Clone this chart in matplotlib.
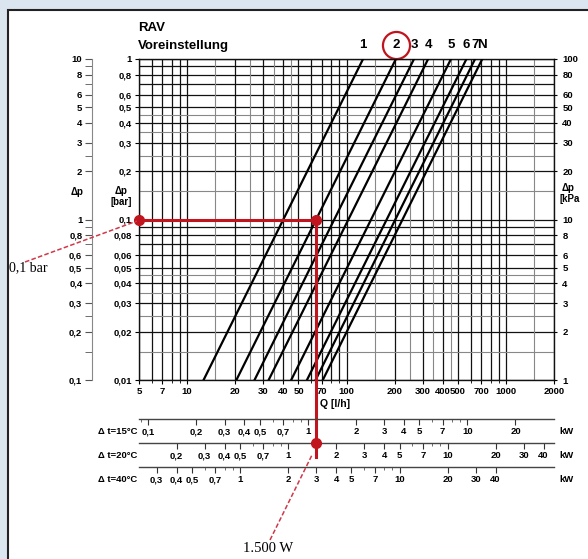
import matplotlib.pyplot as plt
import matplotlib.transforms as mtransforms
from matplotlib.patches import Rectangle
from matplotlib.ticker import FixedLocator, FixedFormatter, NullFormatter

plt.rcParams['font.family'] = ['Liberation Sans', 'DejaVu Sans']
plt.rcParams['font.weight'] = 'bold'

# Daten
settings = ['1', '2', '3', '4', '5', '6', '7', 'N']
q_at_001bar = [12.7, 20.4, 26.5, 32.5, 45, 56.5, 64, 71]      # l/h bei 0,01 bar
q_at_1bar = [127, 204, 265, 325, 452, 565, 640, 710]          # l/h bei 1 bar

q_ticks = [5, 7, 10, 20, 30, 40, 50, 70, 100, 200, 300, 400, 500, 700, 1000, 2000]
bar_ticks = [1, 0.8, 0.6, 0.5, 0.4, 0.3, 0.2, 0.1, 0.08, 0.06, 0.05, 0.04, 0.03, 0.02, 0.01]
mws_ticks = [10, 8, 6, 5, 4, 3, 2, 1, 0.8, 0.6, 0.5, 0.4, 0.3, 0.2, 0.1]
mws_minor = [9, 7, 2.5, 0.9, 0.7, 0.25, 0.15]
kpa_ticks = [100, 80, 60, 50, 40, 30, 20, 10, 8, 6, 5, 4, 3, 2, 1]

dt_rows = [15, 20, 40]
kw_ticks = [
    [0.1, 0.2, 0.3, 0.4, 0.5, 0.7, 1, 2, 3, 4, 5, 7, 10, 20],
    [0.2, 0.3, 0.4, 0.5, 0.7, 1, 2, 3, 4, 5, 7, 10, 20, 30, 40],
    [0.3, 0.4, 0.5, 0.7, 1, 2, 3, 4, 5, 7, 10, 20, 30, 40],
]

grid_major = [m * d for d in (1, 10, 100, 1000) for m in range(1, 10)]
grid_half = [m * d for d in (1, 10, 100, 1000) for m in (1.5, 2.5, 3.5, 4.5)]

# Beispiel: 1.500 W bei dt = 20 K, 0,1 bar
p_example = 1.5      # kW
dp_example = 0.1     # bar
q_example = 64.5     # l/h

q_min, q_max = 5, 2000
red = '#c0141e'


def fmt(v):
    return '{:g}'.format(v).replace('.', ',')


W, H = 588, 559


def fx(x):
    return x / W


def fy(y):
    return 1 - y / H


fig = plt.figure(figsize=(W / 100, H / 100), dpi=100)
fig.patch.set_facecolor('#dbe5ef')
fig.add_artist(Rectangle((fx(8), fy(600)), 1.0, fy(10) - fy(600), transform=fig.transFigure,
                         facecolor='white', edgecolor='#222222', lw=1.5, zorder=-5))

L, R, T, B = 139, 554, 59, 380
ax = fig.add_axes([fx(L), fy(B), (R - L) / W, (B - T) / H])
ax.set_xscale('log')
ax.set_yscale('log')
ax.set_xlim(q_min, q_max)
ax.set_ylim(0.01, 1)
ax.set_facecolor('none')

# Raster
for v in grid_major:
    if q_min <= v <= q_max:
        ax.axvline(v, color='#111111', lw=0.9, zorder=1)
    if 0.01 <= v / 1000 <= 1:
        ax.axhline(v / 1000, color='#111111', lw=0.9, zorder=1)
for v in grid_half:
    if q_min <= v <= q_max:
        ax.axvline(v, color='#888888', lw=0.8, zorder=1)
    if 0.01 <= v / 1000 <= 1:
        ax.axhline(v / 1000, color='#888888', lw=0.8, zorder=1)

# Kennlinien
for qa, qb in zip(q_at_001bar, q_at_1bar):
    ax.plot([qa, qb], [0.01, 1], color='black', lw=1.6, zorder=3)

# Achsen
for s in ax.spines.values():
    s.set_color('#111111')
    s.set_linewidth(1.0)
ax.xaxis.set_major_locator(FixedLocator(q_ticks))
ax.xaxis.set_major_formatter(FixedFormatter([fmt(v) for v in q_ticks]))
ax.xaxis.set_minor_locator(FixedLocator([v for v in grid_major if q_min <= v <= q_max and v not in q_ticks]))
ax.xaxis.set_minor_formatter(NullFormatter())
ax.yaxis.set_major_locator(FixedLocator(bar_ticks))
ax.yaxis.set_major_formatter(FixedFormatter([fmt(v) for v in bar_ticks]))
ax.yaxis.set_minor_locator(FixedLocator([]))
ax.tick_params(axis='x', which='major', length=3, pad=2, labelsize=6.8, direction='out')
ax.tick_params(axis='x', which='minor', length=2, direction='out')
ax.tick_params(axis='y', which='major', length=3, pad=2, labelsize=6.8, direction='out')

axr = ax.twinx()
axr.set_yscale('log')
axr.set_ylim(1, 100)
axr.yaxis.set_major_locator(FixedLocator(kpa_ticks))
axr.yaxis.set_major_formatter(FixedFormatter([fmt(v) for v in kpa_ticks]))
axr.yaxis.set_minor_locator(FixedLocator([]))
axr.tick_params(axis='y', length=2, pad=4, labelsize=6.8)
for s in axr.spines.values():
    s.set_visible(False)

axm = fig.add_axes([fx(92), fy(B), 0.0001, (B - T) / H])
axm.set_yscale('log')
axm.set_ylim(0.1, 10)
axm.set_xticks([])
axm.yaxis.set_major_locator(FixedLocator(mws_ticks))
axm.yaxis.set_major_formatter(FixedFormatter([fmt(v) for v in mws_ticks]))
axm.yaxis.set_minor_locator(FixedLocator(mws_minor))
axm.yaxis.set_minor_formatter(NullFormatter())
axm.tick_params(axis='y', which='major', length=5, pad=2, labelsize=6.8, color='#555555')
axm.tick_params(axis='y', which='minor', length=5, color='#555555')
for k, s in axm.spines.items():
    s.set_visible(k == 'left')
axm.spines['left'].set_color('#888888')
axm.spines['left'].set_linewidth(0.8)

# Achsbeschriftungen
fs = 7
fig.text(fx(77), fy(192), 'Δp', fontsize=fs, ha='center', va='center')
fig.text(fx(121), fy(191), 'Δp', fontsize=fs, ha='center', va='center')
fig.text(fx(121), fy(202), '[bar]', fontsize=fs, ha='center', va='center')
fig.text(fx(568), fy(188), 'Δp', fontsize=fs, ha='center', va='center')
fig.text(fx(560), fy(199), '[kPa', fontsize=fs, ha='left', va='center')
fig.text(fx(320), fy(404), 'Q [l/h]', fontsize=7.5, ha='left', va='center')

fig.text(fx(138), fy(28), 'RAV', fontsize=9.5, ha='left', va='center')
fig.text(fx(138), fy(46), 'Voreinstellung', fontsize=9.5, ha='left', va='center')

hdr = mtransforms.blended_transform_factory(ax.transData, fig.transFigure)
for lab, qb in zip(settings, q_at_1bar):
    ax.text(qb, fy(45), lab, transform=hdr, fontsize=9.5, ha='center', va='center', clip_on=False)
ax.plot([q_at_1bar[1]], [fy(45)], transform=hdr, marker='o', ms=19.5, mfc='none',
        mec=red, mew=1.6, clip_on=False)

# Leistungsskalen
row_lines = [419, 443, 467]
row_axes = []
for dt, ticks, yl in zip(dt_rows, kw_ticks, row_lines):
    ra = fig.add_axes([fx(L), fy(yl), (R - L) / W, 0.0001])
    ra.set_facecolor('none')
    ra.set_xscale('log')
    kmin = 1.163 * dt * q_min / 1000
    kmax = 1.163 * dt * q_max / 1000
    ra.set_xlim(kmin, kmax)
    ra.set_yticks([])
    ra.xaxis.set_major_locator(FixedLocator(ticks))
    ra.xaxis.set_major_formatter(FixedFormatter([fmt(v) for v in ticks]))
    ra.xaxis.set_minor_locator(FixedLocator([v / 1000 for v in grid_major if kmin <= v / 1000 <= kmax]))
    ra.xaxis.set_minor_formatter(NullFormatter())
    ra.tick_params(axis='x', which='major', length=4, pad=2, labelsize=6.8, color='#333333')
    ra.tick_params(axis='x', which='minor', length=2.5, color='#555555')
    for k, s in ra.spines.items():
        s.set_visible(k == 'bottom')
    ra.spines['bottom'].set_color('#444444')
    ra.spines['bottom'].set_linewidth(1.0)
    fig.text(fx(137), fy(yl + 13), 'Δ t=%d°C' % dt, fontsize=6.8, ha='right', va='center')
    fig.text(fx(566), fy(yl + 13), 'kW', fontsize=6.8, ha='center', va='center')
    row_axes.append(ra)

# Beispiel (rot)
ax.plot([q_min, q_example], [dp_example, dp_example], color=red, lw=2.2, zorder=5, clip_on=False)
ax.plot([q_example, q_example], [dp_example, 0.01], color=red, lw=2.2, zorder=5)
ax.plot([q_example, q_example], [fy(B), fy(457)], transform=hdr, color=red, lw=2.2, clip_on=False, zorder=5)
ax.plot([q_min, q_example], [dp_example, dp_example], 'o', color=red, ms=7, zorder=6, clip_on=False)
row_axes[1].plot([p_example], [0], 'o', color=red, ms=7, clip_on=False, zorder=6)

fig.text(fx(9), fy(268), '0,1 bar', family='Liberation Serif', fontweight='normal',
         fontsize=10, ha='left', va='center')
fig.add_artist(plt.Line2D([fx(25), fx(137)], [fy(262), fy(221)], transform=fig.transFigure,
                          color='#d03848', lw=1.1, ls=(0, (3, 1.5))))
fig.text(fx(268), fy(548), '1.500 W', family='Liberation Serif', fontweight='normal',
         fontsize=10.5, ha='center', va='center')
fig.add_artist(plt.Line2D([fx(270), fx(312)], [fy(540), fy(455)], transform=fig.transFigure,
                          color='#d03848', lw=1.1, ls=(0, (3, 1.5))))

fig.savefig('out.png', dpi=100, facecolor=fig.get_facecolor())
